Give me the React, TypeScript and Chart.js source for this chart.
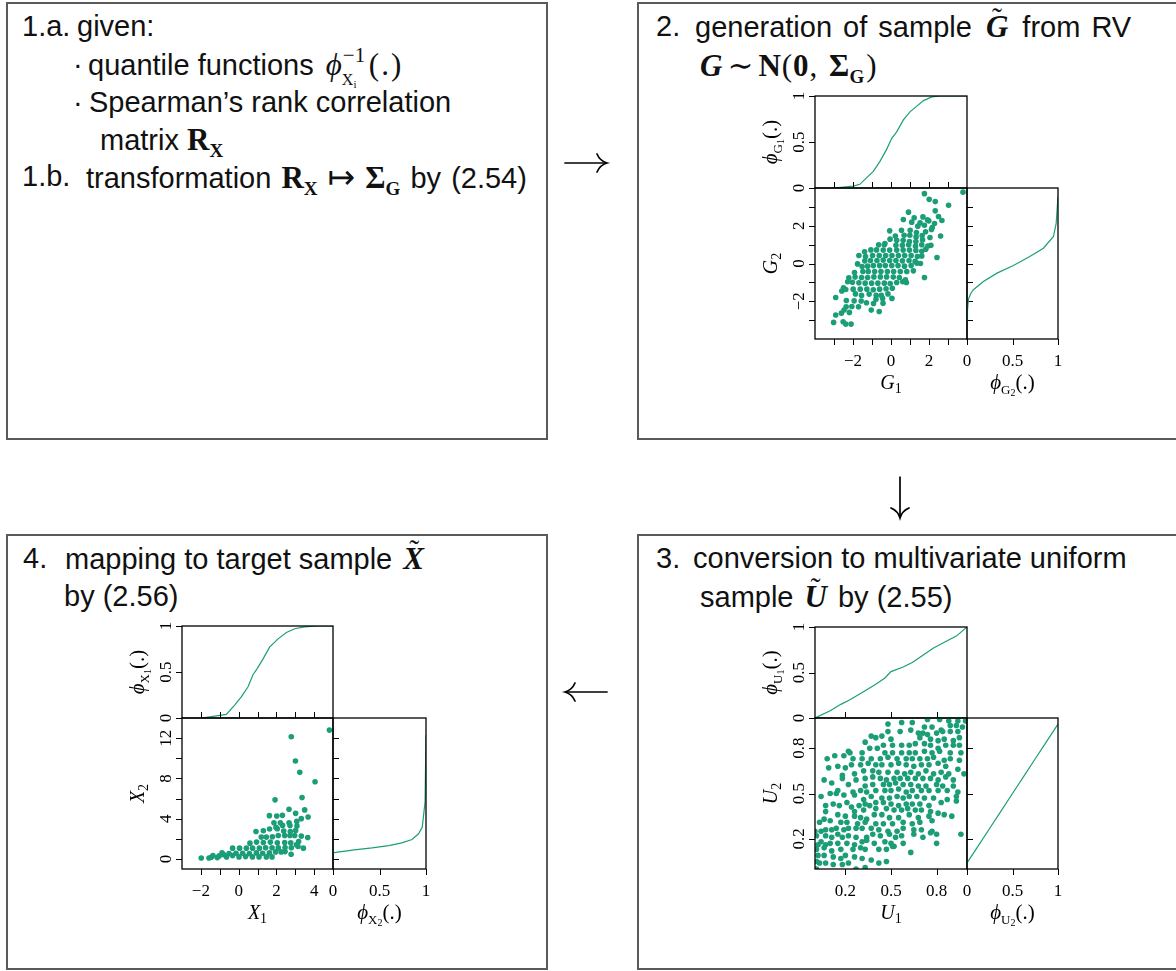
import React, { useEffect, useRef } from "react";
import { Chart, registerables } from "chart.js";

Chart.register(...registerables);

const GREEN = "#1b9e77";
const SANS = '"Liberation Sans", Arial, sans-serif';
const SERIF = '"Liberation Serif", "DejaVu Serif", serif';
const CSERIF = '"Liberation Serif", "DejaVu Serif", serif';

// ---- Step 2: sample of G ~ N(0, Sigma_G) ----
const g1 = [
  1.76, 3.79, 2.01, 3.03, 2.33, 0.92, 2.33, 0.65, 1.22, 1.68, 1.92, 2.5, 2.68, 1.09, 1.53, 1.99, 2.29, 2.17, 1.76, 1.41,
  -0.07, 0.55, 1.01, 1.34, 1.82, 2.13, 2.61, 0.23, 0.69, 0.99, 1.32, 1.64, 2.05, -0.32, -0.05, 0.3, 0.64, 0.97, 1.31, 1.66,
  2.1, -0.65, -0.35, 0.26, 0.6, 0.93, 1.29, 1.62, 1.94, 1.83, -1.39, -1.06, -0.76, -0.41, -0.07, 0.3, 0.64, 0.97, 1.31, 1.62,
  1.62, -1.69, -1.34, -0.97, -0.62, -0.28, 0.05, 0.39, 0.72, 1.06, 1.39, 2.42, -1.38, -1.08, -0.74, -0.41, -0.07, 0.26, 0.6, 0.95,
  1.27, 1.55, -1.76, -1.52, -1.23, -0.93, -0.6, -0.3, 0.04, 0.37, 0.71, 1.06, 1.36, -1.92, -1.48, -1.2, -0.86, -0.53, -0.19, 0.14,
  0.49, 0.83, 1.18, -2.22, -1.89, -1.55, -1.23, -0.9, -0.56, -0.23, 0.12, 0.44, 0.76, 1.76, -2.28, -2.03, -1.69, -1.36, -1.02, -0.69,
  -0.35, -0.04, 0.3, 0.62, 0.81, -2.5, -1.99, -1.62, -1.27, -0.93, -0.6, -0.26, 0.07, -2.91, -2.59, -2.38, -1.87, -1.55, -1.15, -0.78,
  -0.51, -0.16, -2.35, -1.94, -1.57, -0.79, -0.44, 0.05, -2.36, -2.06, -1.71, -1.29, -0.92, -0.42, -2.47, -2.91, -2.19, -1.04, -0.62,
  -2.61, -3.02, -2.52, -2.38, -2.1,
];
const g2 = [
  3.7, 3.78, 3.4, 3.09, 3.28, 2.72, 2.79, 2.33, 2.42, 2.47, 2.31, 2.49, 2.28, 2.19, 2.15, 2.26, 2.12, 1.91, 2.03, 1.98,
  1.73, 1.76, 1.76, 1.64, 1.68, 1.8, 1.46, 1.46, 1.5, 1.5, 1.41, 1.48, 1.38, 1.06, 1.29, 1.23, 1.23, 1.16, 1.16, 1.25,
  0.97, 0.99, 0.99, 0.97, 0.97, 0.99, 0.92, 0.99, 0.93, 0.76, 0.62, 0.72, 0.72, 0.71, 0.71, 0.71, 0.71, 0.71, 0.69, 0.65,
  0.4, 0.42, 0.37, 0.42, 0.42, 0.42, 0.42, 0.42, 0.42, 0.42, 0.37, 0.32, 0.14, 0.16, 0.16, 0.18, 0.16, 0.16, 0.14, 0.16,
  0.11, 0.0, -0.02, -0.16, -0.14, -0.11, -0.11, -0.11, -0.11, -0.11, -0.14, -0.11, 0.02, -0.48, -0.42, -0.42, -0.42, -0.42, -0.42, -0.42,
  -0.42, -0.42, -0.39, -0.76, -0.72, -0.74, -0.74, -0.71, -0.71, -0.71, -0.72, -0.74, -0.86, -0.74, -0.97, -0.99, -1.02, -1.04, -1.04, -1.04,
  -1.04, -1.06, -1.01, -0.97, -1.01, -1.29, -1.36, -1.36, -1.36, -1.39, -1.36, -1.34, -1.31, -1.8, -1.46, -1.38, -1.61, -1.69, -1.62, -1.68,
  -1.69, -1.61, -1.96, -1.98, -1.99, -1.89, -1.85, -1.85, -2.29, -2.28, -2.29, -2.08, -2.12, -2.1, -2.47, -2.73, -2.59, -2.47, -2.54,
  -2.63, -3.12, -3.09, -3.21, -3.21,
];
// marginal CDF of G1 (value, probability)
const cdfG1x = [-3.0, -1.99, -1.64, -1.29, -0.93, -0.58, -0.23, 0.04, 0.3, 0.65, 1.01, 1.36, 1.71, 2.15, 2.59, 3.95];
const cdfG1p = [0, 0.02, 0.04, 0.11, 0.18, 0.29, 0.42, 0.54, 0.61, 0.74, 0.83, 0.89, 0.95, 0.99, 1.0, 1.0];
// marginal CDF of G2 (probability, value)
const cdfG2p = [0, 0.005, 0.015, 0.04, 0.07, 0.18, 0.33, 0.51, 0.69, 0.84, 0.95, 0.98, 1.0];
const cdfG2y = [-3.0, -2.5, -1.9, -1.6, -1.39, -0.95, -0.51, -0.11, 0.37, 0.81, 1.43, 2.13, 3.55];

// ---- Step 3: multivariate uniform sample U ----
const u1 = [
  0.48, 0.57, 0.64, 0.74, 0.82, 0.88, 0.94, 0.99, 0.93, 0.89, 0.72, 0.77, 0.83, 0.97,
  0.48, 0.56, 0.63, 0.68, 0.71, 0.74, 0.8, 0.84, 0.89, 0.94, 0.37, 0.4, 0.44, 0.5, 0.69, 0.76, 0.81, 0.85, 0.91, 0.95, 0.33,
  0.41, 0.36, 0.45, 0.51, 0.57, 0.62, 0.66, 0.72, 0.76, 0.81, 0.86, 0.91, 0.95, 0.22, 0.23, 0.19, 0.31, 0.46, 0.51, 0.57, 0.62,
  0.66, 0.72, 0.77, 0.82, 0.89, 0.96,
  0.08, 0.13, 0.25, 0.31, 0.37, 0.43, 0.48, 0.54, 0.6, 0.64, 0.69, 0.74, 0.78, 0.85, 0.89, 0.95, 0.09, 0.15, 0.2, 0.24, 0.3,
  0.35, 0.4, 0.44, 0.5, 0.55, 0.6, 0.65, 0.7, 0.75, 0.81, 0.86, 0.94, 0.98,
  0.18, 0.26, 0.32, 0.38, 0.42, 0.48, 0.54, 0.59, 0.63, 0.68, 0.73, 0.78, 0.83, 0.88, 0.06, 0.18, 0.22, 0.27, 0.33, 0.38, 0.43,
  0.47, 0.52, 0.56, 0.61, 0.66, 0.71, 0.76, 0.81, 0.86, 0.91,
  0.11, 0.33, 0.38, 0.45, 0.49, 0.53, 0.58, 0.63, 0.68, 0.73, 0.8, 0.84, 0.91, 0.15, 0.19, 0.14, 0.25, 0.26, 0.3, 0.34, 0.4,
  0.46, 0.5, 0.55, 0.6, 0.64, 0.7, 0.75, 0.81, 0.87, 0.94, 0.04, 0.1,
  0.32, 0.37, 0.44, 0.49, 0.54, 0.58, 0.62, 0.67, 0.72, 0.78, 0.83, 0.87, 0.93, 0.07, 0.12, 0.16, 0.21, 0.24, 0.29, 0.33, 0.36,
  0.4, 0.45, 0.5, 0.55, 0.6, 0.64, 0.69, 0.75, 0.93, 0.07, 0.26, 0.32, 0.4, 0.47, 0.52, 0.57, 0.61, 0.66, 0.7, 0.76, 0.81, 0.85, 0.9,
  0.15, 0.2, 0.26, 0.3, 0.34, 0.39, 0.44, 0.49, 0.55, 0.62, 0.68, 0.75, 0.03, 0.06, 0.1, 0.17, 0.21, 0.28, 0.33, 0.4, 0.45, 0.51,
  0.58, 0.64, 0.69, 0.77,
  0.07, 0.11, 0.0, 0.04, 0.14, 0.19, 0.22, 0.27, 0.31, 0.37, 0.42, 0.48, 0.54, 0.58, 0.65, 0.7, 0.77, 0.8, 0.96, 0.01, 0.07, 0.11,
  0.15, 0.18, 0.22, 0.27, 0.34, 0.38, 0.43, 0.49, 0.53, 0.57, 0.65, 0.71, 0.76,
  0.04, 0.02, 0.07, 0.1, 0.15, 0.21, 0.26, 0.31, 0.34, 0.39, 0.46, 0.5, 0.52, 0.58, 0.8, 0.01, 0.06, 0.11, 0.17, 0.25, 0.3, 0.33,
  0.42, 0.47, 0.51, 0.63,
  0.02, 0.06, 0.12, 0.17, 0.2, 0.26, 0.31, 0.37, 0.47, 0.01, 0.03, 0.07, 0.12, 0.18, 0.22, 0.27, 0.33, 0.42, 0.01,
];
const u2 = [
  0.96, 0.97, 0.97, 0.99, 0.99, 0.98, 0.98, 0.98, 0.95, 0.95, 0.94, 0.94, 0.92, 0.94,
  0.91, 0.91, 0.92, 0.9, 0.9, 0.89, 0.9, 0.91, 0.91, 0.91, 0.88, 0.87, 0.88, 0.86, 0.87, 0.86, 0.85, 0.86, 0.85, 0.87, 0.84,
  0.8, 0.8, 0.82, 0.82, 0.82, 0.82, 0.83, 0.83, 0.82, 0.8, 0.82, 0.82, 0.82, 0.78, 0.77, 0.75, 0.77, 0.77, 0.77, 0.77, 0.77,
  0.77, 0.78, 0.77, 0.78, 0.77, 0.77,
  0.73, 0.75, 0.73, 0.73, 0.73, 0.73, 0.74, 0.73, 0.73, 0.73, 0.73, 0.73, 0.74, 0.72, 0.73, 0.72, 0.67, 0.68, 0.67, 0.69, 0.69,
  0.7, 0.69, 0.69, 0.69, 0.7, 0.69, 0.68, 0.69, 0.69, 0.7, 0.68, 0.66, 0.63,
  0.62, 0.63, 0.65, 0.65, 0.64, 0.64, 0.64, 0.63, 0.64, 0.63, 0.65, 0.63, 0.64, 0.63, 0.59, 0.6, 0.56, 0.59, 0.6, 0.61, 0.6,
  0.59, 0.6, 0.6, 0.6, 0.6, 0.6, 0.6, 0.59, 0.61, 0.59,
  0.57, 0.55, 0.56, 0.56, 0.56, 0.57, 0.56, 0.56, 0.55, 0.55, 0.56, 0.55, 0.55, 0.52, 0.49, 0.5, 0.51, 0.49, 0.52, 0.51, 0.52,
  0.52, 0.52, 0.53, 0.51, 0.52, 0.52, 0.52, 0.52, 0.52, 0.51, 0.48, 0.5,
  0.46, 0.48, 0.47, 0.47, 0.48, 0.47, 0.48, 0.48, 0.47, 0.47, 0.44, 0.46, 0.48, 0.42, 0.43, 0.42, 0.44, 0.41, 0.42, 0.43, 0.42,
  0.44, 0.44, 0.43, 0.42, 0.43, 0.43, 0.43, 0.42, 0.45, 0.38, 0.38, 0.39, 0.4, 0.4, 0.39, 0.39, 0.4, 0.39, 0.39, 0.38, 0.37, 0.36, 0.35,
  0.36, 0.35, 0.35, 0.34, 0.33, 0.36, 0.36, 0.34, 0.34, 0.36, 0.34, 0.35, 0.31, 0.33, 0.32, 0.31, 0.31, 0.3, 0.31, 0.3, 0.3, 0.3,
  0.31, 0.3, 0.31, 0.32,
  0.26, 0.26, 0.25, 0.25, 0.27, 0.26, 0.27, 0.27, 0.27, 0.27, 0.26, 0.25, 0.25, 0.27, 0.26, 0.26, 0.25, 0.23, 0.23, 0.22, 0.22, 0.21,
  0.23, 0.21, 0.22, 0.21, 0.21, 0.23, 0.22, 0.23, 0.21, 0.22, 0.23, 0.21, 0.24,
  0.18, 0.16, 0.16, 0.17, 0.17, 0.17, 0.16, 0.18, 0.19, 0.17, 0.18, 0.17, 0.15, 0.17, 0.17, 0.13, 0.14, 0.12, 0.13, 0.13, 0.14, 0.13,
  0.13, 0.13, 0.15, 0.11,
  0.09, 0.09, 0.08, 0.07, 0.09, 0.08, 0.07, 0.06, 0.05, 0.05, 0.04, 0.04, 0.03, 0.03, 0.04, 0.0, 0.01, 0.04, 0.0,
];
const cdfU1x = [0, 0.1, 0.17, 0.23, 0.28, 0.33, 0.4, 0.46, 0.5, 0.58, 0.64, 0.71, 0.78, 0.86, 0.93, 1.0];
const cdfU1p = [0, 0.08, 0.15, 0.2, 0.25, 0.3, 0.37, 0.44, 0.51, 0.56, 0.61, 0.69, 0.77, 0.84, 0.9, 1.0];
const cdfU2p = [0, 0.12, 0.25, 0.37, 0.5, 0.62, 0.75, 0.87, 1.0];
const cdfU2y = [0.04, 0.15, 0.27, 0.38, 0.5, 0.61, 0.73, 0.84, 0.96];

// ---- Step 4: target sample X ----
const x1 = [
  4.81, 2.79, 3.01, 3.24, 4.05, 1.93, 3.36, 2.67, 3.5, 3.02, 2.32, 1.63, 2.02, 3.68, 3.32, 1.87, 2.21, 2.67, 3.08, 1.98,
  2.33, 2.72, 3.09, 0.92, 1.31, 1.64, 2.05, 2.39, 2.74, 3.02, 1.2, 1.47, 1.79, 2.1, 2.44, 2.72, 2.97, 3.32, 3.66, 0.6,
  0.95, 1.31, 1.68, 2.05, 2.44, 2.76, 3.06, 3.18, 3.43, -0.32, 0.05, 0.41, 0.74, 1.1, 1.43, 1.77, 2.1, 2.46, 2.79, 3.15,
  2.78, 2.46, -0.88, -0.51, -0.14, 0.21, 0.57, 0.94, 1.27, 1.63, 1.96, 2.25, -1.98, -1.57, -1.36, -1.13, -1.03, -0.8, -0.64, -0.32,
  0.02, 0.37, 0.73, 1.08, 1.47, 1.77, -1.45,
];
const x2 = [
  12.8, 12.13, 9.73, 8.6, 7.67, 5.87, 6.1, 4.93, 4.87, 4.53, 4.33, 4.3, 4.27, 4.17, 4.0, 3.6, 3.6, 3.6, 3.73, 3.13,
  3.33, 3.33, 3.27, 2.73, 2.8, 2.97, 3.0, 2.77, 2.73, 2.83, 2.17, 2.17, 2.2, 2.33, 2.33, 2.33, 2.33, 2.27, 2.13, 1.57,
  1.67, 1.63, 1.67, 1.6, 1.63, 1.6, 1.4, 1.72, 1.07, 1.07, 1.07, 1.07, 1.07, 1.07, 1.1, 1.1, 1.1, 1.13, 1.1, 1.23,
  0.47, 0.73, 0.6, 0.53, 0.57, 0.57, 0.53, 0.6, 0.57, 0.6, 0.7, 0.7, 0.1, 0.1, 0.33, 0.13, 0.3, 0.43, 0.2, 0.33,
  0.2, 0.23, 0.2, 0.2, 0.2, 0.2, 0.17,
];
const cdfX1x = [-1.98, -1.27, -0.65, -0.21, 0.14, 0.5, 0.76, 0.99, 1.29, 1.64, 2.09, 2.53, 2.97, 3.5, 4.21, 4.95];
const cdfX1p = [0, 0.02, 0.04, 0.14, 0.23, 0.34, 0.47, 0.54, 0.64, 0.77, 0.86, 0.93, 0.97, 0.99, 1.0, 1.0];
const cdfX2p = [0, 0.05, 0.23, 0.42, 0.6, 0.74, 0.85, 0.92, 0.96, 0.97, 0.99, 1.0];
const cdfX2y = [0.6, 0.67, 0.9, 1.1, 1.33, 1.6, 1.93, 2.5, 3.17, 4.0, 5.67, 12.3];

// ---- tick values and labels ----
const gTicks = [-3, -2, -1, 0, 1, 2, 3];
const gLabels = [-2, 0, 2];
const probTicks = [0, 0.5, 1];
const uTicks = [0.2, 0.5, 0.8];
const x1Ticks = [-2, -1, 0, 1, 2, 3, 4];
const x1Labels = [-2, 0, 2, 4];
const x2Ticks = [0, 2, 4, 6, 8, 10, 12];
const x2Labels = [0, 4, 8, 12];

type Seg = { t: string; f: string; dy?: number };
type Side = { ticks: number[]; labels?: number[] };
type Spec = {
  key: string;
  l: number; t: number; w: number; h: number;
  xr: [number, number]; yr: [number, number];
  xs: number[]; ys: number[]; line: boolean;
  bottom?: Side; left?: Side; top?: Side; right?: Side;
  xTitle?: Seg[]; yTitle?: Seg[];
};

const PAD = { l: 80, t: 12, r: 12, b: 62 };

const italic = (s: number) => `italic ${s}px ${CSERIF}`;
const roman = (s: number) => `${s}px ${CSERIF}`;
const varTitle = (v: string, i: string): Seg[] => [
  { t: v, f: italic(20) },
  { t: i, f: roman(14), dy: 4 },
];
const cdfTitle = (v: string, i: string): Seg[] => [
  { t: "\u03d5", f: italic(21) },
  { t: v, f: roman(13), dy: 5 },
  { t: i, f: roman(10), dy: 7 },
  { t: "(.)", f: roman(21) },
];

const specs: Spec[] = [
  // step 2
  { key: "gTop", l: 815, t: 96, w: 152, h: 92, xr: [-4, 4], yr: [0, 1], xs: cdfG1x, ys: cdfG1p, line: true,
    left: { ticks: probTicks, labels: probTicks }, yTitle: cdfTitle("G", "1") },
  { key: "gMain", l: 815, t: 188, w: 152, h: 151, xr: [-4, 4], yr: [-4, 4], xs: g1, ys: g2, line: false,
    bottom: { ticks: gTicks, labels: gLabels }, left: { ticks: gTicks, labels: gLabels },
    top: { ticks: gTicks }, right: { ticks: gTicks },
    xTitle: varTitle("G", "1"), yTitle: varTitle("G", "2") },
  { key: "gRight", l: 967, t: 188, w: 91, h: 151, xr: [0, 1], yr: [-4, 4], xs: cdfG2p, ys: cdfG2y, line: true,
    bottom: { ticks: probTicks, labels: probTicks }, xTitle: cdfTitle("G", "2") },
  // step 3
  { key: "uTop", l: 815, t: 627, w: 152, h: 91, xr: [0, 1], yr: [0, 1], xs: cdfU1x, ys: cdfU1p, line: true,
    left: { ticks: probTicks, labels: probTicks }, yTitle: cdfTitle("U", "1") },
  { key: "uMain", l: 815, t: 718, w: 152, h: 151, xr: [0, 1], yr: [0, 1], xs: u1, ys: u2, line: false,
    bottom: { ticks: uTicks, labels: uTicks }, left: { ticks: uTicks, labels: uTicks },
    top: { ticks: uTicks }, right: { ticks: uTicks },
    xTitle: varTitle("U", "1"), yTitle: varTitle("U", "2") },
  { key: "uRight", l: 967, t: 718, w: 91, h: 151, xr: [0, 1], yr: [0, 1], xs: cdfU2p, ys: cdfU2y, line: true,
    bottom: { ticks: probTicks, labels: probTicks }, xTitle: cdfTitle("U", "2") },
  // step 4
  { key: "xTop", l: 182, t: 626, w: 151, h: 92, xr: [-3, 5], yr: [0, 1], xs: cdfX1x, ys: cdfX1p, line: true,
    left: { ticks: probTicks, labels: probTicks }, yTitle: cdfTitle("X", "1") },
  { key: "xMain", l: 182, t: 718, w: 151, h: 151, xr: [-3, 5], yr: [-1, 14], xs: x1, ys: x2, line: false,
    bottom: { ticks: x1Ticks, labels: x1Labels }, left: { ticks: x2Ticks, labels: x2Labels },
    top: { ticks: x1Ticks }, right: { ticks: x2Ticks },
    xTitle: varTitle("X", "1"), yTitle: varTitle("X", "2") },
  { key: "xRight", l: 333, t: 718, w: 93, h: 151, xr: [0, 1], yr: [-1, 14], xs: cdfX2p, ys: cdfX2y, line: true,
    bottom: { ticks: probTicks, labels: probTicks }, xTitle: cdfTitle("X", "2") },
];

const fmt = (v: number) => (v < 0 ? "\u2212" + Math.abs(v) : String(v));

function drawRich(ctx: CanvasRenderingContext2D, segs: Seg[], cx: number, by: number) {
  let total = 0;
  for (const s of segs) {
    ctx.font = s.f;
    total += ctx.measureText(s.t).width;
  }
  let x = cx - total / 2;
  ctx.textAlign = "left";
  ctx.textBaseline = "alphabetic";
  for (const s of segs) {
    ctx.font = s.f;
    ctx.fillText(s.t, x, by + (s.dy || 0));
    x += ctx.measureText(s.t).width;
  }
}

const TL = 6;

function framePlugin(s: Spec) {
  return {
    id: "frame-" + s.key,
    afterDatasetsDraw(chart: any) {
      const { ctx, chartArea: a } = chart;
      const xs = chart.scales.x;
      const ys = chart.scales.y;
      ctx.save();
      ctx.strokeStyle = "#000";
      ctx.lineWidth = 1.3;
      ctx.strokeRect(a.left, a.top, a.right - a.left, a.bottom - a.top);
      ctx.lineWidth = 1;
      ctx.beginPath();
      s.bottom?.ticks.forEach((v) => {
        const p = Math.round(xs.getPixelForValue(v)) + 0.5;
        ctx.moveTo(p, a.bottom);
        ctx.lineTo(p, a.bottom + TL);
      });
      s.top?.ticks.forEach((v) => {
        const p = Math.round(xs.getPixelForValue(v)) + 0.5;
        ctx.moveTo(p, a.top);
        ctx.lineTo(p, a.top - TL);
      });
      s.left?.ticks.forEach((v) => {
        const p = Math.round(ys.getPixelForValue(v)) + 0.5;
        ctx.moveTo(a.left, p);
        ctx.lineTo(a.left - TL, p);
      });
      s.right?.ticks.forEach((v) => {
        const p = Math.round(ys.getPixelForValue(v)) + 0.5;
        ctx.moveTo(a.right, p);
        ctx.lineTo(a.right + TL, p);
      });
      ctx.stroke();

      ctx.fillStyle = "#000";
      ctx.font = roman(17);
      ctx.textAlign = "center";
      ctx.textBaseline = "middle";
      s.bottom?.labels?.forEach((v) => {
        ctx.fillText(fmt(v), xs.getPixelForValue(v), a.bottom + 23);
      });
      s.left?.labels?.forEach((v) => {
        ctx.save();
        ctx.translate(a.left - 15, ys.getPixelForValue(v));
        ctx.rotate(-Math.PI / 2);
        ctx.fillText(fmt(v), 0, 0);
        ctx.restore();
      });
      if (s.xTitle) drawRich(ctx, s.xTitle, (a.left + a.right) / 2, a.bottom + 50);
      if (s.yTitle) {
        ctx.save();
        ctx.translate(a.left - 38, (a.top + a.bottom) / 2);
        ctx.rotate(-Math.PI / 2);
        drawRich(ctx, s.yTitle, 0, 0);
        ctx.restore();
      }
      ctx.restore();
    },
  };
}

function makeChart(canvas: HTMLCanvasElement, s: Spec) {
  const pts = s.xs.map((x, i) => ({ x, y: s.ys[i] }));
  return new Chart(canvas, {
    type: "scatter",
    data: {
      datasets: [
        {
          data: pts,
          showLine: s.line,
          pointRadius: s.line ? 0 : 2.8,
          pointBorderWidth: 0,
          pointBackgroundColor: GREEN,
          pointBorderColor: GREEN,
          borderColor: GREEN,
          backgroundColor: GREEN,
          borderWidth: s.line ? 1.2 : 0,
          tension: 0,
        },
      ],
    },
    options: {
      animation: false,
      responsive: false,
      events: [],
      layout: { padding: { left: PAD.l, top: PAD.t, right: PAD.r, bottom: PAD.b } },
      plugins: { legend: { display: false }, tooltip: { enabled: false } },
      scales: {
        x: { type: "linear", min: s.xr[0], max: s.xr[1], display: false },
        y: { type: "linear", min: s.yr[0], max: s.yr[1], display: false },
      },
    },
    plugins: [framePlugin(s)],
  } as any);
}

// ---- text helpers ----
const FS = 29;
const MS = 31;
function Line({ x, base, ws, children }: { x: number; base: number; ws?: number; children: React.ReactNode }) {
  return (
    <div
      style={{
        position: "absolute",
        left: x,
        top: base - 24.5,
        fontFamily: SANS,
        fontSize: FS,
        lineHeight: `${FS}px`,
        whiteSpace: "nowrap",
        wordSpacing: ws || 0,
        color: "#111",
      }}
    >
      {children}
    </div>
  );
}

function BoldSub({ m, s }: { m: string; s: string }) {
  return (
    <span style={{ fontFamily: SERIF, fontWeight: "bold", fontSize: MS }}>
      {m}
      <span style={{ fontSize: 19, position: "relative", top: 7 }}>{s}</span>
    </span>
  );
}

function Tilde({ ch }: { ch: string }) {
  return (
    <span
      style={{
        position: "relative",
        display: "inline-block",
        fontFamily: SERIF,
        fontStyle: "italic",
        fontWeight: "bold",
        fontSize: MS,
        margin: "0 3px",
      }}
    >
      {ch}
      <span
        style={{
          position: "absolute",
          left: 6,
          top: -9,
          fontStyle: "normal",
          fontWeight: "normal",
          fontSize: 30,
        }}
      >
        {"\u02dc"}
      </span>
    </span>
  );
}

function PhiInv() {
  return (
    <span style={{ fontFamily: SERIF, fontSize: MS, marginLeft: 4 }}>
      <span style={{ fontStyle: "italic" }}>{"\u03d5"}</span>
      <span style={{ display: "inline-block", position: "relative", width: 27, height: 0 }}>
        <span style={{ position: "absolute", left: 1, top: -30, fontSize: 21, lineHeight: "21px" }}>{"\u22121"}</span>
        <span style={{ position: "absolute", left: 0, top: -3, fontSize: 16, lineHeight: "16px" }}>
          X<span style={{ fontSize: 11, position: "relative", top: 3 }}>i</span>
        </span>
      </span>
      <span style={{ letterSpacing: 2 }}>(.)</span>
    </span>
  );
}

const boxStyle = (l: number, t: number, w: number, h: number): React.CSSProperties => ({
  position: "absolute",
  left: l,
  top: t,
  width: w,
  height: h,
  boxSizing: "border-box",
  border: "2px solid #5a5a5a",
});

export default function App() {
  const refs = useRef<(HTMLCanvasElement | null)[]>([]);
  useEffect(() => {
    const charts = specs.map((s, i) => makeChart(refs.current[i] as HTMLCanvasElement, s));
    return () => charts.forEach((c) => c.destroy());
  }, []);

  return (
    <div
      style={{
        position: "absolute",
        left: 0,
        top: 0,
        width: 1176,
        height: 971,
        overflow: "hidden",
        background: "#fff",
      }}
    >
      <div style={boxStyle(6, 2, 542, 438)} />
      <div style={boxStyle(637, 2, 600, 438)} />
      <div style={boxStyle(6, 534, 542, 436)} />
      <div style={boxStyle(637, 534, 600, 436)} />

      {/* step 1 */}
      <Line x={22} base={36}>1.a.</Line>
      <Line x={77} base={36}>given:</Line>
      <Line x={73} base={74}>·</Line>
      <Line x={88} base={74}>
        quantile functions <PhiInv />
      </Line>
      <Line x={73} base={112}>·</Line>
      <Line x={89} base={112}>Spearman’s rank correlation</Line>
      <Line x={100} base={149}>
        matrix <BoldSub m="R" s="X" />
      </Line>
      <Line x={22} base={186}>1.b.</Line>
      <Line x={86} base={186} ws={2}>
        transformation <BoldSub m="R" s="X" />{" "}
        <span style={{ fontFamily: '"DejaVu Sans"', fontSize: 33 }}>{"\u21a6"}</span>{" "}
        <BoldSub m={"\u03a3"} s="G" /> by (2.54)
      </Line>

      {/* step 2 */}
      <Line x={656} base={36}>2.</Line>
      <Line x={695} base={36} ws={3}>
        generation of sample <Tilde ch="G" /> from RV
      </Line>
      <Line x={700} base={75}>
        <span style={{ fontFamily: SERIF, fontStyle: "italic", fontWeight: "bold", fontSize: MS }}>G</span>
        <span style={{ fontFamily: SERIF, fontSize: MS, margin: "0 5px" }}>{"\u223c"}</span>
        <span style={{ fontFamily: SERIF, fontWeight: "bold", fontSize: MS }}>N</span>
        <span style={{ fontFamily: SERIF, fontSize: MS, marginLeft: 1 }}>(</span>
        <span style={{ fontFamily: SERIF, fontWeight: "bold", fontSize: MS, margin: "0 1px" }}>0</span>
        <span style={{ fontFamily: SERIF, fontSize: MS, marginRight: 4 }}>, </span>
        <BoldSub m={"\u03a3"} s="G" />
        <span style={{ fontFamily: SERIF, fontSize: MS, marginLeft: 2 }}>)</span>
      </Line>

      {/* step 3 */}
      <Line x={656} base={568}>3.</Line>
      <Line x={693} base={568}>conversion to multivariate uniform</Line>
      <Line x={700} base={606}>
        sample <Tilde ch="U" /> by (2.55)
      </Line>

      {/* step 4 */}
      <Line x={23} base={568}>4.</Line>
      <Line x={65} base={568}>
        mapping to target sample <Tilde ch="X" />
      </Line>
      <Line x={64} base={606}>by (2.56)</Line>

      <svg
        width={1176}
        height={971}
        style={{ position: "absolute", left: 0, top: 0, pointerEvents: "none" }}
      >
        <g stroke="#000" strokeWidth={1.7} fill="none" strokeLinecap="round">
          <path d="M565 163 H606" />
          <path d="M597 154 Q600 161 607 163 Q600 165 597 172" />
          <path d="M900 477 V517" />
          <path d="M891 508 Q898 511 900 518 Q902 511 909 508" />
          <path d="M566 692 H607" />
          <path d="M575 683 Q572 690 565 692 Q572 694 575 701" />
        </g>
      </svg>

      {specs.map((s, i) => (
        <canvas
          key={s.key}
          ref={(el) => {
            refs.current[i] = el;
          }}
          width={s.w + PAD.l + PAD.r}
          height={s.h + PAD.t + PAD.b}
          style={{ position: "absolute", left: s.l - PAD.l, top: s.t - PAD.t }}
        />
      ))}
    </div>
  );
}
